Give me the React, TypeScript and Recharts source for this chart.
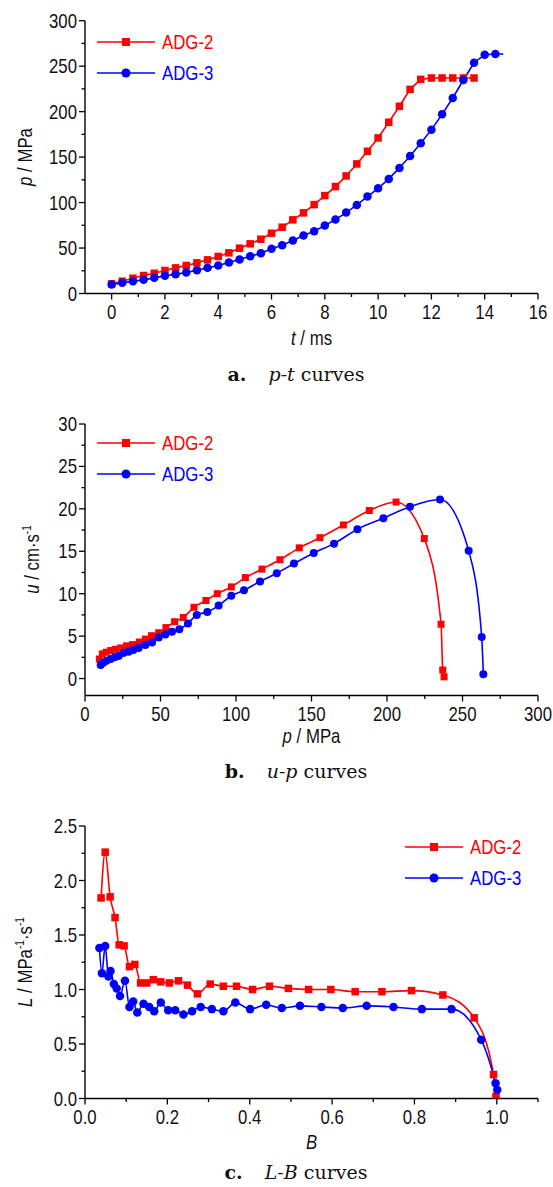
import React from "react";
import { LineChart, Line, XAxis, YAxis, Legend, Label } from "recharts";

const RED = "#ff0000";
const BLUE = "#0000ff";
const AXIS_FONT = "'Liberation Sans', Arial, sans-serif";
const NARROW = 0.84; // the reference uses a narrow face; squeeze the regular one
const CAPTION_FONT = "'DejaVu Serif', 'Liberation Serif', serif";

// a. p-t curves
const ptTime2 = [0, 0.4, 0.8, 1.2, 1.6, 2.0, 2.4, 2.8, 3.2, 3.6, 4.0, 4.4, 4.8, 5.2, 5.6, 6.0, 6.4, 6.8, 7.2, 7.6, 8.0, 8.4, 8.8, 9.2, 9.6, 10.0, 10.4, 10.8, 11.2, 11.6, 12.0, 12.4, 12.8, 13.2, 13.6];
const ptPress2 = [10.6, 13.5, 16.8, 19.8, 22.3, 25.3, 28.2, 30.8, 33.7, 37.0, 40.7, 44.7, 49.8, 54.6, 59.7, 66.3, 72.9, 81.0, 88.7, 97.8, 107.7, 117.6, 129.3, 142.5, 156.4, 171.1, 188.3, 205.9, 224.5, 235.5, 237, 237, 237, 237, 237];
const ptTime3 = [0, 0.4, 0.8, 1.2, 1.6, 2.0, 2.4, 2.8, 3.2, 3.6, 4.0, 4.4, 4.8, 5.2, 5.6, 6.0, 6.4, 6.8, 7.2, 7.6, 8.0, 8.4, 8.8, 9.2, 9.6, 10.0, 10.4, 10.8, 11.2, 11.6, 12.0, 12.4, 12.8, 13.2, 13.6, 14.0, 14.4, 14.7];
const ptPress3 = [9.9, 11.7, 13.5, 15.0, 17.2, 19.4, 21.2, 23.1, 25.6, 28.2, 30.8, 34.1, 37.4, 41.0, 44.3, 49.1, 53.1, 58.2, 63.7, 68.5, 74.7, 81.3, 89.0, 97.4, 106.6, 115.7, 126.0, 138.1, 151.2, 165.2, 180.2, 197.0, 215.0, 234.8, 253.8, 262.6, 263.4, 263.4];

// b. u-p curves
const upPress2 = [9.5, 11.5, 14.0, 17.0, 20.0, 23.5, 27.5, 31.5, 36.0, 40.0, 44.0, 48.8, 53.6, 59.4, 65.1, 72.2, 80.1, 87.6, 96.9, 106.2, 117.2, 129.1, 141.9, 155.6, 171.1, 188.3, 206.0, 224.7, 235.8, 236.9, 237.8];
const upSpeed2 = [2.3, 2.9, 3.1, 3.3, 3.45, 3.6, 3.85, 4.0, 4.3, 4.65, 5.05, 5.4, 6.0, 6.7, 7.2, 8.4, 9.2, 10.0, 10.8, 11.9, 12.9, 14.0, 15.4, 16.6, 18.1, 19.8, 20.8, 16.5, 6.4, 1.0, 0.2];
const upPress3 = [10.4, 12.1, 14.3, 17.0, 19.6, 22.3, 25.4, 28.9, 32.0, 35.5, 40.0, 44.4, 48.8, 53.2, 57.6, 62.5, 68.2, 74.0, 81.0, 88.5, 96.9, 105.3, 115.9, 127.0, 138.4, 151.5, 164.9, 180.4, 197.6, 215.2, 235.1, 254.1, 262.7, 263.8];
const upSpeed3 = [1.6, 1.85, 2.1, 2.3, 2.5, 2.65, 3.0, 3.15, 3.35, 3.6, 3.95, 4.25, 4.85, 5.2, 5.5, 5.8, 6.5, 7.5, 7.85, 8.6, 9.75, 10.4, 11.45, 12.4, 13.55, 14.8, 15.9, 17.6, 18.9, 20.25, 21.1, 15.05, 4.9, 0.5];

// c. L-B curves
const lbB2 = [0.039, 0.049, 0.061, 0.073, 0.083, 0.095, 0.108, 0.121, 0.135, 0.150, 0.166, 0.184, 0.205, 0.227, 0.249, 0.273, 0.304, 0.336, 0.368, 0.407, 0.448, 0.494, 0.543, 0.597, 0.656, 0.721, 0.793, 0.869, 0.945, 0.992, 0.998];
const lbL2 = [1.84, 2.26, 1.85, 1.66, 1.41, 1.40, 1.21, 1.23, 1.06, 1.06, 1.09, 1.07, 1.06, 1.08, 1.04, 0.96, 1.05, 1.03, 1.03, 1.00, 1.03, 1.01, 1.00, 1.00, 0.98, 0.98, 0.99, 0.95, 0.74, 0.22, 0.02];
const lbB3 = [0.035, 0.041, 0.049, 0.057, 0.062, 0.070, 0.077, 0.085, 0.097, 0.108, 0.117, 0.127, 0.142, 0.156, 0.168, 0.184, 0.202, 0.219, 0.239, 0.260, 0.281, 0.308, 0.336, 0.365, 0.401, 0.440, 0.478, 0.522, 0.574, 0.626, 0.684, 0.749, 0.818, 0.890, 0.962, 0.997, 1.001];
const lbL3 = [1.38, 1.15, 1.40, 1.12, 1.17, 1.05, 1.01, 0.94, 1.08, 0.84, 0.89, 0.79, 0.87, 0.84, 0.80, 0.88, 0.81, 0.81, 0.77, 0.80, 0.84, 0.82, 0.80, 0.88, 0.82, 0.86, 0.83, 0.85, 0.84, 0.83, 0.85, 0.84, 0.82, 0.82, 0.54, 0.14, 0.08];

// tick values (major + minor)
const ptTimeTicks = [0, 1, 2, 3, 4, 5, 6, 7, 8, 9, 10, 11, 12, 13, 14, 15, 16];
const ptTimeMajor = [0, 2, 4, 6, 8, 10, 12, 14, 16];
const ptPressTicks = [0, 25, 50, 75, 100, 125, 150, 175, 200, 225, 250, 275, 300];
const ptPressMajor = [0, 50, 100, 150, 200, 250, 300];
const upPressTicks = [0, 25, 50, 75, 100, 125, 150, 175, 200, 225, 250, 275, 300];
const upPressMajor = [0, 50, 100, 150, 200, 250, 300];
const upSpeedTicks = [0, 2.5, 5, 7.5, 10, 12.5, 15, 17.5, 20, 22.5, 25, 27.5, 30];
const upSpeedMajor = [0, 5, 10, 15, 20, 25, 30];
const lbBTicks = [0, 0.1, 0.2, 0.3, 0.4, 0.5, 0.6, 0.7, 0.8, 0.9, 1.0, 1.1];
const lbBMajor = [0, 0.2, 0.4, 0.6, 0.8, 1.0];
const lbLTicks = [0, 0.25, 0.5, 0.75, 1.0, 1.25, 1.5, 1.75, 2.0, 2.25, 2.5];
const lbLMajor = [0, 0.5, 1.0, 1.5, 2.0, 2.5];

type Pt = { x: number; y: number };
const zip = (xs: number[], ys: number[]): Pt[] => xs.map((x, i) => ({ x, y: ys[i] }));

interface SeriesDef {
  name: string;
  color: string;
  shape: "square" | "circle";
  size: number;
  data: Pt[];
  dotCount?: number;
}

interface Part {
  t: string;
  i?: boolean;
  sup?: boolean;
}

const isIn = (arr: number[], v: number) => arr.some((m) => Math.abs(m - v) < 1e-9);
const fmtInt = (v: number) => String(Math.round(v));
const fmt1 = (v: number) => v.toFixed(1);

function makeDot(s: SeriesDef) {
  return (props: any) => {
    const { cx, cy, index } = props;
    if (cx == null || cy == null || (s.dotCount != null && index >= s.dotCount)) {
      return <g key={`n${index}`} />;
    }
    if (s.shape === "square") {
      return (
        <rect key={`s${index}`} x={cx - s.size / 2} y={cy - s.size / 2} width={s.size} height={s.size} fill={s.color} />
      );
    }
    return <circle key={`c${index}`} cx={cx} cy={cy} r={s.size / 2} fill={s.color} />;
  };
}

function NarrowText({ x, y, anchor, children }: { x: number; y: number; anchor: "start" | "middle" | "end"; children: React.ReactNode }) {
  return (
    <text
      transform={`translate(${x},${y}) scale(${NARROW},1)`}
      x={0}
      y={0}
      dy="0.35em"
      textAnchor={anchor}
      fontFamily={AXIS_FONT}
      fontSize={20}
      fill="#111"
    >
      {children}
    </text>
  );
}

function makeXTick(major: number[], fmt: (v: number) => string) {
  return (props: any) => {
    const { x, y, payload } = props;
    const big = isIn(major, payload.value);
    return (
      <g>
        <line x1={x} x2={x} y1={y} y2={y + (big ? 6 : 3.5)} stroke="#000" strokeWidth={1.3} />
        {big && (
          <NarrowText x={x} y={y + 18} anchor="middle">
            {fmt(payload.value)}
          </NarrowText>
        )}
      </g>
    );
  };
}

function makeYTick(major: number[], fmt: (v: number) => string) {
  return (props: any) => {
    const { x, y, payload } = props;
    const big = isIn(major, payload.value);
    return (
      <g>
        <line x1={x - (big ? 6 : 3.5)} x2={x} y1={y} y2={y} stroke="#000" strokeWidth={1.3} />
        {big && (
          <NarrowText x={x - 8} y={y} anchor="end">
            {fmt(payload.value)}
          </NarrowText>
        )}
      </g>
    );
  };
}

function AxisTitle({ x, y, rotate, parts }: { x: number; y: number; rotate?: boolean; parts: Part[] }) {
  let lifted = false;
  return (
    <text
      transform={`translate(${x},${y})${rotate ? " rotate(-90)" : ""} scale(${NARROW},1)`}
      x={0}
      y={0}
      dy="0.35em"
      textAnchor="middle"
      fontFamily={AXIS_FONT}
      fontSize={20}
      fill="#111"
    >
      {parts.map((p, i) => {
        let dy = 0;
        if (p.sup && !lifted) {
          dy = -8;
          lifted = true;
        } else if (!p.sup && lifted) {
          dy = 8;
          lifted = false;
        }
        return (
          <tspan key={i} dy={dy || undefined} fontStyle={p.i ? "italic" : undefined} fontSize={p.sup ? 12 : undefined}>
            {p.t}
          </tspan>
        );
      })}
    </text>
  );
}

function LegendBox({ series }: { series: SeriesDef[] }) {
  return (
    <div style={{ fontFamily: AXIS_FONT, fontSize: 20 }}>
      {series.map((s) => (
        <div key={s.name} style={{ display: "flex", alignItems: "center", height: 31 }}>
          <svg width={58} height={14} style={{ marginRight: 7 }}>
            <line x1={0} x2={58} y1={7} y2={7} stroke={s.color} strokeWidth={1.6} />
            {s.shape === "square" ? (
              <rect x={29 - 4} y={3} width={8} height={8} fill={s.color} />
            ) : (
              <circle cx={29} cy={7} r={4.5} fill={s.color} />
            )}
          </svg>
          <span
            style={{
              color: s.color,
              lineHeight: "20px",
              display: "inline-block",
              transform: `scaleX(${NARROW})`,
              transformOrigin: "left center",
            }}
          >
            {s.name}
          </span>
        </div>
      ))}
    </div>
  );
}

interface PanelProps {
  top: number;
  height: number;
  margin: { top: number; right: number; bottom: number; left: number };
  xDomain: [number, number];
  xTicks: number[];
  xMajor: number[];
  xFmt: (v: number) => string;
  yDomain: [number, number];
  yTicks: number[];
  yMajor: number[];
  yFmt: (v: number) => string;
  xTitle: Part[];
  yTitle: Part[];
  xTitlePos: [number, number];
  yTitlePos: [number, number];
  legendPos: { left: number; top: number };
  series: SeriesDef[];
  curve: "linear" | "monotone";
  caption: { label: string; a: string; b: string };
  captionY: number;
}

function Panel(p: PanelProps) {
  return (
    <>
      <div style={{ position: "absolute", left: 0, top: p.top }}>
        <LineChart width={553} height={p.height} margin={p.margin}>
          <XAxis
            dataKey="x"
            type="number"
            domain={p.xDomain}
            ticks={p.xTicks}
            interval={0}
            allowDataOverflow
            tickSize={0}
            tickMargin={0}
            tickLine={false}
            tick={makeXTick(p.xMajor, p.xFmt)}
            axisLine={{ stroke: "#000", strokeWidth: 1.4 }}
            height={30}
          >
            <Label content={() => <AxisTitle x={p.xTitlePos[0]} y={p.xTitlePos[1]} parts={p.xTitle} />} />
          </XAxis>
          <XAxis
            xAxisId="top"
            orientation="top"
            type="number"
            domain={p.xDomain}
            height={0}
            tick={false}
            tickLine={false}
            axisLine={{ stroke: "#000", strokeWidth: 1.4 }}
          />
          <YAxis
            type="number"
            domain={p.yDomain}
            ticks={p.yTicks}
            interval={0}
            allowDataOverflow
            tickSize={0}
            tickMargin={0}
            tickLine={false}
            tick={makeYTick(p.yMajor, p.yFmt)}
            axisLine={{ stroke: "#000", strokeWidth: 1.4 }}
            width={60}
          >
            <Label content={() => <AxisTitle x={p.yTitlePos[0]} y={p.yTitlePos[1]} rotate parts={p.yTitle} />} />
          </YAxis>
          <YAxis
            yAxisId="right"
            orientation="right"
            type="number"
            domain={p.yDomain}
            width={0}
            tick={false}
            tickLine={false}
            axisLine={{ stroke: "#000", strokeWidth: 1.4 }}
          />
          <Legend
            layout="vertical"
            align="center"
            verticalAlign="middle"
            wrapperStyle={{ left: p.legendPos.left, top: p.legendPos.top, width: 140 }}
            content={() => <LegendBox series={p.series} />}
          />
          {p.series.map((s) => (
            <Line
              key={s.name}
              name={s.name}
              data={s.data}
              dataKey="y"
              type={p.curve}
              stroke={s.color}
              strokeWidth={1.6}
              dot={makeDot(s)}
              activeDot={false}
              isAnimationActive={false}
            />
          ))}
        </LineChart>
      </div>
      <div
        style={{
          position: "absolute",
          left: 176,
          width: 240,
          top: p.captionY - 13,
          lineHeight: "26px",
          textAlign: "center",
          fontFamily: CAPTION_FONT,
          fontSize: 19,
          color: "#111",
          whiteSpace: "nowrap",
        }}
      >
        <b>{p.caption.label}</b>
        <span style={{ display: "inline-block", width: 22 }} />
        <i>{p.caption.a}</i> {p.caption.b}
      </div>
    </>
  );
}

const ptSeries: SeriesDef[] = [
  { name: "ADG-2", color: RED, shape: "square", size: 7.5, data: zip(ptTime2, ptPress2) },
  { name: "ADG-3", color: BLUE, shape: "circle", size: 8.5, data: zip(ptTime3, ptPress3), dotCount: ptTime3.length - 1 },
];
const upSeries: SeriesDef[] = [
  { name: "ADG-2", color: RED, shape: "square", size: 7, data: zip(upPress2, upSpeed2) },
  { name: "ADG-3", color: BLUE, shape: "circle", size: 8, data: zip(upPress3, upSpeed3) },
];
const lbSeries: SeriesDef[] = [
  { name: "ADG-2", color: RED, shape: "square", size: 7.5, data: zip(lbB2, lbL2) },
  { name: "ADG-3", color: BLUE, shape: "circle", size: 8.5, data: zip(lbB3, lbL3) },
];

export default function App() {
  return (
    <div style={{ position: "absolute", left: 0, top: 0, width: 553, height: 1187, background: "#fff", overflow: "hidden" }}>
      <Panel
        top={0}
        height={360}
        margin={{ top: 20.7, right: 15, bottom: 36.5, left: 25 }}
        xDomain={[-1, 16]}
        xTicks={ptTimeTicks}
        xMajor={ptTimeMajor}
        xFmt={fmtInt}
        yDomain={[0, 300]}
        yTicks={ptPressTicks}
        yMajor={ptPressMajor}
        yFmt={fmtInt}
        xTitle={[{ t: "t", i: true }, { t: " / ms" }]}
        yTitle={[{ t: "p", i: true }, { t: " / MPa" }]}
        xTitlePos={[311.5, 338]}
        yTitlePos={[25, 157]}
        legendPos={{ left: 97, top: 26 }}
        series={ptSeries}
        curve="linear"
        caption={{ label: "a.", a: "p-t", b: "curves" }}
        captionY={374}
      />
      <Panel
        top={400}
        height={360}
        margin={{ top: 24, right: 15, bottom: 34.5, left: 25 }}
        xDomain={[0, 300]}
        xTicks={upPressTicks}
        xMajor={upPressMajor}
        xFmt={fmtInt}
        yDomain={[-2, 30]}
        yTicks={upSpeedTicks}
        yMajor={upSpeedMajor}
        yFmt={fmtInt}
        xTitle={[{ t: "p", i: true }, { t: " / MPa" }]}
        yTitle={[{ t: "u", i: true }, { t: " / cm·s" }, { t: "-1", sup: true }]}
        xTitlePos={[311.5, 336]}
        yTitlePos={[32, 159.5]}
        legendPos={{ left: 97, top: 27 }}
        series={upSeries}
        curve="monotone"
        caption={{ label: "b.", a: "u-p", b: "curves" }}
        captionY={771}
      />
      <Panel
        top={800}
        height={387}
        margin={{ top: 26, right: 15, bottom: 58.5, left: 25 }}
        xDomain={[0, 1.1]}
        xTicks={lbBTicks}
        xMajor={lbBMajor}
        xFmt={fmt1}
        yDomain={[0, 2.5]}
        yTicks={lbLTicks}
        yMajor={lbLMajor}
        yFmt={fmt1}
        xTitle={[{ t: "B", i: true }]}
        yTitle={[{ t: "L", i: true }, { t: " / MPa" }, { t: "-1", sup: true }, { t: "·s" }, { t: "-1", sup: true }]}
        xTitlePos={[311.5, 342]}
        yTitlePos={[25, 162]}
        legendPos={{ left: 405, top: 31 }}
        series={lbSeries}
        curve="monotone"
        caption={{ label: "c.", a: "L-B", b: "curves" }}
        captionY={1172}
      />
    </div>
  );
}
